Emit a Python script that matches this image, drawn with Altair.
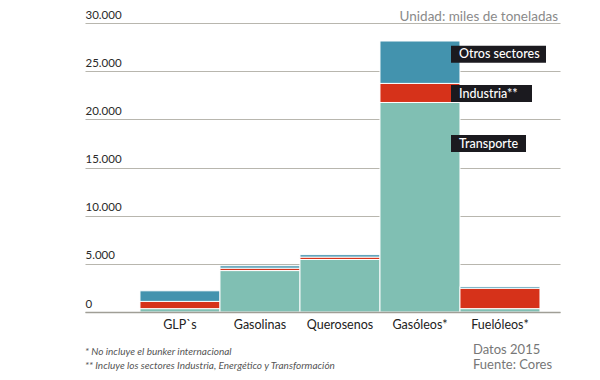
import altair as alt
import pandas as pd

categories = ["GLP`s", "Gasolinas", "Querosenos", "Gasóleos*", "Fuelóleos*"]
sectors = ["Transporte", "Industria**", "Otros sectores"]
transporte = [350, 4300, 5450, 21750, 350]
industria = [750, 250, 250, 1980, 2120]
otros = [1100, 250, 250, 4400, 170]
colors = ["#80bfb3", "#d6321a", "#4393ae"]

ann_labels = ["Otros sectores", "Industria**", "Transporte"]
ann_values = [26750, 22680, 17490]
ann_box_ends = [461, 447, 441]

rows = []
for i, c in enumerate(categories):
    for j, (s, vals) in enumerate(zip(sectors, [transporte, industria, otros])):
        rows.append({"cat": c, "sector": s, "value": vals[i], "ord": j})
df = pd.DataFrame(rows)
ann = pd.DataFrame({"label": ann_labels, "ly": ann_values})

FONT = "Lato"
W, H = 475, 289

x_enc = alt.X("cat:N", sort=categories, title=None,
              scale=alt.Scale(paddingInner=0, paddingOuter=0.46875, align=0.733),
              axis=alt.Axis(labelAngle=0, tickSize=0, labelPadding=6, labelFontSize=12.5,
                            labelColor="#222", labelFont=FONT, domainColor="#a09e96",
                            domainWidth=1.5, zindex=1))
y_scale = alt.Scale(domain=[0, 30000], nice=False)

bars = alt.Chart(df).mark_bar(stroke="white", strokeWidth=1).encode(
    x=x_enc,
    y=alt.Y("value:Q", stack="zero", scale=y_scale, title=None,
            axis=alt.Axis(values=[0, 5000, 10000, 15000, 20000, 25000, 30000],
                          labelExpr="replace(format(datum.value, ','), ',', '.')",
                          tickSize=0, labelPadding=0, labelAlign="left",
                          labelBaseline="alphabetic", labelOffset=-5, labelFontSize=11.5,
                          labelColor="#2a2a2a", labelFont=FONT, domain=False,
                          grid=True, gridColor="#b8b6ae", gridWidth=1.2)),
    color=alt.Color("sector:N", scale=alt.Scale(domain=sectors, range=colors), legend=None),
    order=alt.Order("ord:Q"),
)

box_layers = []
for lab, e in zip(ann_labels, ann_box_ends):
    box_layers.append(
        alt.Chart(ann[ann.label == lab]).mark_rect(color="#1b1a1f", yOffset=-8.5, y2Offset=8.5).encode(
            x=alt.value(366), x2=alt.value(e),
            y=alt.Y("ly:Q", scale=y_scale), y2="ly:Q",
        )
    )

ann_text = alt.Chart(ann).mark_text(align="left", baseline="middle", color="white",
                                    font=FONT, fontSize=12.5, fontWeight=500).encode(
    x=alt.value(374), y=alt.Y("ly:Q", scale=y_scale), text="label:N")

def txt(s, x, y, **kw):
    return alt.Chart(pd.DataFrame({"t": [s]})).mark_text(font=FONT, **kw).encode(
        x=alt.value(x), y=alt.value(y), text="t:N")

unidad = txt("Unidad: miles de toneladas", 473, -6, align="right", baseline="middle",
             fontSize=13.5, color="#8a8a8a")
fn1 = txt("* No incluye el bunker internacional", 0, 329, align="left", baseline="middle",
          fontSize=10, fontStyle="italic", color="#555")
fn2 = txt("** Incluye los sectores Industria, Energético y Transformación", 0, 343,
          align="left", baseline="middle", fontSize=10, fontStyle="italic", color="#555")
d1 = txt("Datos 2015", 388, 327, align="left", baseline="middle", fontSize=13, color="#777")
d2 = txt("Fuente: Cores", 388, 342, align="left", baseline="middle", fontSize=13, color="#777")

chart = alt.layer(bars, *box_layers, ann_text, unidad, fn1, fn2, d1, d2).properties(
    width=W, height=H,
    autosize=alt.AutoSizeParams(type="none"),
    padding={"left": 77, "top": 15, "right": 32, "bottom": 60},
).configure_view(stroke=None)

chart.save("out.html", embed_options={"renderer": "svg", "actions": False})
